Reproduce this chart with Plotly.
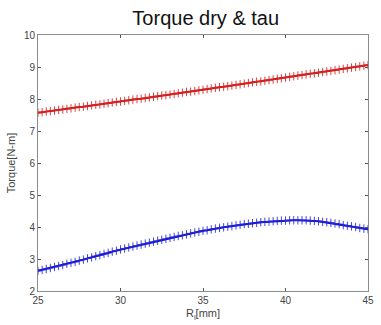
import plotly.graph_objects as go

r_mm = [25 + 0.25 * k for k in range(81)]

torque_dry = [
    7.57, 7.59, 7.61, 7.62, 7.64, 7.66, 7.67, 7.69, 7.71, 7.73, 7.75, 7.76,
    7.78, 7.80, 7.82, 7.83, 7.85, 7.87, 7.89, 7.91, 7.92, 7.94, 7.96, 7.98,
    8.00, 8.01, 8.03, 8.05, 8.07, 8.09, 8.11, 8.12, 8.14, 8.16, 8.18, 8.20,
    8.22, 8.23, 8.25, 8.27, 8.29, 8.31, 8.33, 8.35, 8.37, 8.38, 8.40, 8.42,
    8.44, 8.46, 8.48, 8.50, 8.52, 8.54, 8.55, 8.57, 8.59, 8.61, 8.63, 8.65,
    8.67, 8.69, 8.71, 8.73, 8.75, 8.77, 8.79, 8.80, 8.82, 8.84, 8.86, 8.88,
    8.90, 8.92, 8.94, 8.96, 8.98, 9.00, 9.02, 9.04, 9.06,
]

torque_tau = [
    2.63, 2.66, 2.69, 2.72, 2.75, 2.78, 2.81, 2.85, 2.88, 2.91, 2.95, 2.98,
    3.02, 3.05, 3.09, 3.12, 3.16, 3.19, 3.23, 3.26, 3.30, 3.33, 3.36, 3.39,
    3.42, 3.45, 3.48, 3.51, 3.54, 3.57, 3.60, 3.63, 3.66, 3.69, 3.72, 3.74,
    3.77, 3.80, 3.83, 3.85, 3.88, 3.90, 3.93, 3.95, 3.97, 3.99, 4.01, 4.03,
    4.05, 4.07, 4.09, 4.10, 4.12, 4.13, 4.15, 4.16, 4.17, 4.18, 4.19, 4.20,
    4.20, 4.21, 4.21, 4.21, 4.21, 4.21, 4.20, 4.19, 4.18, 4.16, 4.15, 4.13,
    4.11, 4.09, 4.06, 4.04, 4.02, 4.00, 3.97, 3.95, 3.93,
]

x_ticks = [25, 30, 35, 40, 45]
y_ticks = [2, 3, 4, 5, 6, 7, 8, 9, 10]

fig = go.Figure()
for vals, col, mcol in [(torque_dry, "#ff0000", "rgba(200,40,40,0.85)"),
                        (torque_tau, "#0000ff", "rgba(40,40,200,0.85)")]:
    fig.add_trace(go.Scatter(
        x=r_mm, y=vals, mode="lines+markers",
        line=dict(color=col, width=2),
        marker=dict(symbol="cross-thin", size=6, color=mcol,
                    line=dict(color=mcol, width=1)),
        showlegend=False,
    ))

axis_common = dict(
    showgrid=False, zeroline=False, showline=True, mirror="ticks",
    linecolor="#8c8c8c", linewidth=1, ticks="inside", ticklen=3,
    tickcolor="#555555", tickfont=dict(family="Liberation Sans, Arial", size=10, color="#444444"),
)

fig.update_layout(
    width=381, height=325,
    margin=dict(l=38, r=7, t=35, b=33),
    paper_bgcolor="white", plot_bgcolor="white",
    title=dict(text="Torque dry & tau", x=0.54, xanchor="center", y=0.945, yanchor="middle",
               font=dict(family="Liberation Sans, Arial", size=20, color="#111111")),
    xaxis=dict(range=[25, 45], tickvals=x_ticks,
               title=dict(text="R<sub>i</sub>[mm]", standoff=4,
                          font=dict(family="Liberation Sans, Arial", size=11, color="#444444")),
               **axis_common),
    yaxis=dict(range=[2, 10], tickvals=y_ticks,
               title=dict(text="Torque[N-m]", standoff=6,
                          font=dict(family="Liberation Sans, Arial", size=11, color="#444444")),
               **axis_common),
)

fig.write_html("out.html")
